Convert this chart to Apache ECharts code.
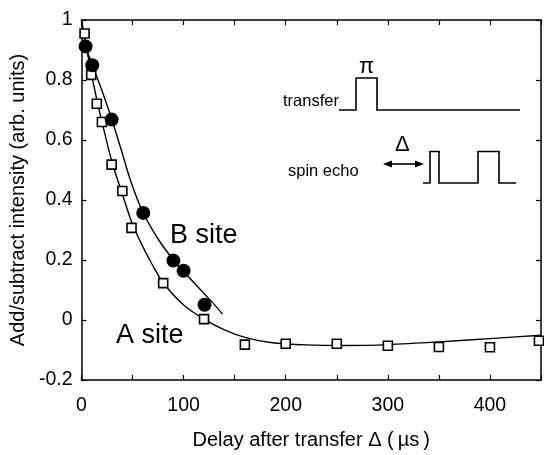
<!DOCTYPE html>
<html>
<head>
<meta charset="utf-8">
<script src="https://cdn.jsdelivr.net/npm/echarts@6.0.0/dist/echarts.min.js"></script>
<style>
  html, body { margin: 0; padding: 0; background: #fff; }
  #chart { width: 544px; height: 455px; }
</style>
</head>
<body>
<div id="chart"></div>
<script>
// measured points: [delay (µs), add/subtract intensity]
var aSitePoints = [[3, 0.955], [9.5, 0.817], [15, 0.721], [20, 0.66], [29.5, 0.518], [40, 0.43], [49, 0.307],
  [80, 0.123], [120, 0.003], [160, -0.082], [200, -0.079], [250, -0.079], [300, -0.086], [350, -0.09],
  [400, -0.091], [448, -0.069]];
var bSitePoints = [[4, 0.912], [10.5, 0.849], [29.5, 0.668], [60.5, 0.357], [90, 0.198], [100, 0.164], [120.5, 0.051]];

// fitted curves
var aSiteFit = [[0, 1.0], [5, 0.905], [10, 0.815], [15, 0.735], [20, 0.66], [30, 0.525], [40, 0.42], [50, 0.318],
  [60, 0.245], [70, 0.18], [80, 0.124], [100, 0.05], [120, 0.003], [140, -0.033], [160, -0.058], [185, -0.075],
  [220, -0.083], [260, -0.085], [300, -0.082], [350, -0.073], [400, -0.062], [450, -0.051]];
var bSiteFit = [[0, 1.0], [4, 0.915], [10, 0.855], [20, 0.765], [30, 0.665], [40, 0.555], [48, 0.465], [60, 0.36],
  [75, 0.27], [90, 0.2], [100, 0.162], [110, 0.125], [120, 0.088], [130, 0.052], [138, 0.02]];

var xLabelValues = [0, 100, 200, 300, 400];

var FONT = '"Liberation Sans", Arial, Helvetica, sans-serif';

var chart = echarts.init(document.getElementById('chart'));

var lineBlack = { color: '#000', width: 1.5 };
var tickInside = { show: true, inside: true, length: 5, lineStyle: { color: '#000', width: 1.2 } };

function xAxisBase(pos) {
  return {
    type: 'value', position: pos, min: 0, max: 450, interval: 50,
    axisLine: { show: true, onZero: false, lineStyle: lineBlack },
    axisTick: tickInside,
    splitLine: { show: false }
  };
}
function yAxisBase(pos) {
  return {
    type: 'value', position: pos, min: -0.2, max: 1, interval: 0.2,
    axisLine: { show: true, onZero: false, lineStyle: lineBlack },
    axisTick: tickInside,
    splitLine: { show: false }
  };
}

var xBottom = xAxisBase('bottom');
xBottom.axisLabel = {
  margin: 16, fontSize: 19.5, color: '#000', fontFamily: FONT,
  formatter: function (v) { return xLabelValues.indexOf(v) >= 0 ? String(v) : ''; }
};
xBottom.name = 'Delay after transfer \u0394 (\u2009\u00b5s\u2009)';
xBottom.nameLocation = 'middle';
xBottom.nameGap = 50;
xBottom.nameTextStyle = { fontSize: 20, color: '#000', fontFamily: FONT };

var xTop = xAxisBase('top');
xTop.axisLabel = { show: false };

var yLeft = yAxisBase('left');
yLeft.axisLabel = { margin: 9, fontSize: 19.5, color: '#000', fontFamily: FONT };
yLeft.name = 'Add/subtract intensity (arb. units)';
yLeft.nameLocation = 'middle';
yLeft.nameGap = 52;
yLeft.nameTextStyle = { fontSize: 20, color: '#000', fontFamily: FONT };

var yRight = yAxisBase('right');
yRight.axisLabel = { show: false };

function txt(x, y, s, size) {
  return {
    type: 'text', x: x, y: y, z: 10,
    style: { text: s, fontSize: size, fontFamily: FONT, fill: '#000', align: 'left', verticalAlign: 'middle' }
  };
}
function poly(points) {
  return { type: 'polyline', z: 10, shape: { points: points }, style: { stroke: '#000', lineWidth: 1.6, fill: null } };
}

var option = {
  animation: false,
  backgroundColor: '#fff',
  grid: { left: 81, right: 3, top: 20, bottom: 73, containLabel: false },
  xAxis: [xBottom, xTop],
  yAxis: [yLeft, yRight],
  series: [
    { name: 'A fit', type: 'line', data: aSiteFit, smooth: 0.3, symbol: 'none', lineStyle: { color: '#000', width: 1.4 }, z: 2 },
    { name: 'B fit', type: 'line', data: bSiteFit, smooth: 0.3, symbol: 'none', lineStyle: { color: '#000', width: 1.4 }, z: 2 },
    { name: 'A site', type: 'scatter', data: aSitePoints, symbol: 'rect', symbolSize: 9,
      itemStyle: { color: '#fff', borderColor: '#000', borderWidth: 1.6, opacity: 1 }, z: 3 },
    { name: 'B site', type: 'scatter', data: bSitePoints, symbol: 'circle', symbolSize: 14,
      itemStyle: { color: '#000', opacity: 1 }, z: 4 }
  ],
  graphic: [
    txt(170, 236, 'B site', 27),
    txt(116, 336, 'A site', 27),
    // pulse sequence inset
    txt(283, 101, 'transfer', 16.5),
    txt(288, 171, 'spin echo', 16.5),
    txt(359, 67, '\u03c0', 22),
    txt(395, 145, '\u0394', 22),
    poly([[339, 110], [356, 110], [356, 78], [377, 78], [377, 110], [520, 110]]),
    poly([[423, 183], [430, 183], [430, 151.5], [439, 151.5], [439, 183], [478, 183], [478, 151.5], [499, 151.5], [499, 183], [516, 183]]),
    poly([[388, 164], [419, 164]]),
    { type: 'polygon', z: 10, shape: { points: [[383, 164], [392, 160.5], [392, 167.5]] }, style: { fill: '#000' } },
    { type: 'polygon', z: 10, shape: { points: [[424, 164], [415, 160.5], [415, 167.5]] }, style: { fill: '#000' } }
  ]
};

chart.setOption(option);
</script>
</body>
</html>
